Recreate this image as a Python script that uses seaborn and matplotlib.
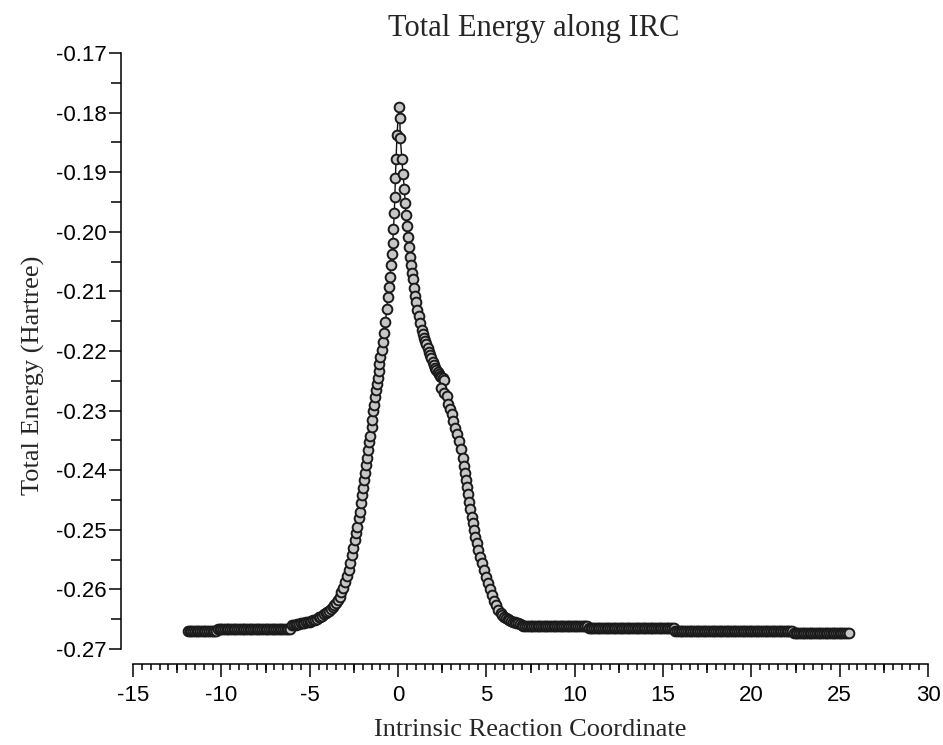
import numpy as np
import pandas as pd
import seaborn as sns
import matplotlib.pyplot as plt
from matplotlib.ticker import MultipleLocator, FixedLocator, FormatStrFormatter

# reactant side plateaus (IRC steps at constant energy level)
react_plateau_irc = [
    [-11.9, -11.8, -11.7, -11.6, -11.5, -11.4, -11.3, -11.2, -11.1, -11.0,
     -10.9, -10.8, -10.7, -10.6, -10.5, -10.4, -10.3],
    [-10.2, -10.1, -10.0, -9.9, -9.8, -9.7, -9.6, -9.5, -9.4, -9.3,
     -9.2, -9.1, -9.0, -8.9, -8.8, -8.7, -8.6, -8.5, -8.4, -8.3,
     -8.2, -8.1, -8.0, -7.9, -7.8, -7.7, -7.6, -7.5, -7.4, -7.3,
     -7.2, -7.1, -7.0, -6.9, -6.8, -6.7, -6.6, -6.5, -6.4, -6.3,
     -6.2, -6.1],
]
react_plateau_e = [-0.2670, -0.2666]

# reactant side rise to the TS
react_irc = [-6.0, -5.9, -5.8, -5.7, -5.6, -5.5, -5.4, -5.3, -5.2, -5.1,
             -5.0, -4.9, -4.8, -4.7, -4.6, -4.5, -4.4, -4.3, -4.2, -4.1,
             -4.0, -3.9, -3.8, -3.7, -3.6, -3.5, -3.4, -3.3,
             -3.20, -3.10, -3.00, -2.90, -2.80, -2.70, -2.61, -2.53, -2.45, -2.37,
             -2.30, -2.22, -2.16, -2.10, -2.04, -1.98, -1.92, -1.87, -1.80, -1.74,
             -1.68, -1.62, -1.56, -1.50, -1.45, -1.40, -1.35, -1.30, -1.25, -1.20,
             -1.15, -1.10, -1.05, -1.00, -0.93, -0.86, -0.80, -0.72, -0.64, -0.58,
             -0.52, -0.46, -0.40, -0.35, -0.30, -0.26, -0.21, -0.18, -0.15, -0.11,
             -0.06]
react_e = [-0.2660, -0.2659, -0.2659, -0.2658, -0.2658, -0.2657, -0.2657, -0.2656, -0.2655, -0.2655,
           -0.2654, -0.2653, -0.2652, -0.2651, -0.2649, -0.2647, -0.2646, -0.2644, -0.2642, -0.2640,
           -0.2638, -0.2636, -0.2633, -0.2630, -0.2626, -0.2623, -0.2618, -0.2612,
           -0.2604, -0.2597, -0.2587, -0.2577, -0.2567, -0.2555, -0.2542, -0.2530, -0.2517, -0.2505,
           -0.2495, -0.2481, -0.2470, -0.2455, -0.2441, -0.2430, -0.2417, -0.2405, -0.2392, -0.2379,
           -0.2366, -0.2353, -0.2342, -0.2328, -0.2315, -0.2301, -0.2290, -0.2278, -0.2266, -0.2256,
           -0.2245, -0.2233, -0.2222, -0.2210, -0.2198, -0.2185, -0.2170, -0.2152, -0.2130, -0.2110,
           -0.2093, -0.2076, -0.2055, -0.2038, -0.2019, -0.1995, -0.1968, -0.1942, -0.1910, -0.1878,
           -0.1838]

# transition state
ts_irc = [0.05]
ts_e = [-0.1791]

# product side descent
prod_irc = [0.10, 0.13, 0.22, 0.28, 0.36, 0.40, 0.44, 0.50, 0.55, 0.61,
            0.67, 0.73, 0.79, 0.85, 0.90, 0.96, 1.03, 1.10, 1.17, 1.25,
            1.33, 1.40,
            1.47, 1.54, 1.61, 1.68, 1.75, 1.82, 1.89, 1.96, 2.03, 2.10,
            2.17, 2.24, 2.31, 2.38, 2.45, 2.52, 2.58,
            2.43, 2.62, 2.77, 2.83, 2.95, 3.06, 3.11, 3.23, 3.34, 3.45,
            3.57, 3.66, 3.73, 3.80, 3.86, 3.92, 3.98, 4.04, 4.10, 4.16,
            4.22, 4.29, 4.38, 4.47, 4.55, 4.64, 4.75, 4.86, 4.97, 5.08,
            5.20, 5.32, 5.44, 5.56, 5.68, 5.80, 5.90, 6.00, 6.10, 6.20,
            6.30, 6.40, 6.50, 6.60, 6.70, 6.80, 6.90, 7.00]
prod_e = [-0.1809, -0.1843, -0.1878, -0.1903, -0.1928, -0.1951, -0.1971, -0.1990, -0.2008, -0.2025,
          -0.2042, -0.2055, -0.2069, -0.2080, -0.2094, -0.2107, -0.2117, -0.2131, -0.2142, -0.2153,
          -0.2164, -0.2172,
          -0.2178, -0.2183, -0.2189, -0.2195, -0.2201, -0.2206, -0.2212, -0.2218, -0.2223, -0.2228,
          -0.2232, -0.2236, -0.2239, -0.2242, -0.2244, -0.2246, -0.2248,
          -0.2262, -0.2270, -0.2275, -0.2289, -0.2297, -0.2306, -0.2317, -0.2329, -0.2339, -0.2351,
          -0.2364, -0.2379, -0.2393, -0.2405, -0.2416, -0.2428, -0.2440, -0.2453, -0.2465, -0.2478,
          -0.2488, -0.2500, -0.2512, -0.2522, -0.2534, -0.2545, -0.2555, -0.2567, -0.2579, -0.2589,
          -0.2600, -0.2610, -0.2619, -0.2627, -0.2634, -0.2639, -0.2643, -0.2646, -0.2648, -0.2650,
          -0.2652, -0.2653, -0.2654, -0.2655, -0.2656, -0.2657, -0.2658, -0.2659]

# product side plateaus
prod_plateau_irc = [
    [7.1, 7.2, 7.3, 7.4, 7.5, 7.6, 7.7, 7.8, 7.9, 8.0,
     8.1, 8.2, 8.3, 8.4, 8.5, 8.6, 8.7, 8.8, 8.9, 9.0,
     9.1, 9.2, 9.3, 9.4, 9.5, 9.6, 9.7, 9.8, 9.9, 10.0,
     10.1, 10.2, 10.3, 10.4, 10.5, 10.6, 10.7],
    [10.8, 10.9, 11.0, 11.1, 11.2, 11.3, 11.4, 11.5, 11.6, 11.7,
     11.8, 11.9, 12.0, 12.1, 12.2, 12.3, 12.4, 12.5, 12.6, 12.7,
     12.8, 12.9, 13.0, 13.1, 13.2, 13.3, 13.4, 13.5, 13.6, 13.7,
     13.8, 13.9, 14.0, 14.1, 14.2, 14.3, 14.4, 14.5, 14.6, 14.7,
     14.8, 14.9, 15.0, 15.1, 15.2, 15.3, 15.4, 15.5, 15.6],
    [15.7, 15.8, 15.9, 16.0, 16.1, 16.2, 16.3, 16.4, 16.5, 16.6,
     16.7, 16.8, 16.9, 17.0, 17.1, 17.2, 17.3, 17.4, 17.5, 17.6,
     17.7, 17.8, 17.9, 18.0, 18.1, 18.2, 18.3, 18.4, 18.5, 18.6,
     18.7, 18.8, 18.9, 19.0, 19.1, 19.2, 19.3, 19.4, 19.5, 19.6,
     19.7, 19.8, 19.9, 20.0, 20.1, 20.2, 20.3, 20.4, 20.5, 20.6,
     20.7, 20.8, 20.9, 21.0, 21.1, 21.2, 21.3, 21.4, 21.5, 21.6,
     21.7, 21.8, 21.9, 22.0, 22.1, 22.2, 22.3],
    [22.4, 22.5, 22.6, 22.7, 22.8, 22.9, 23.0, 23.1, 23.2, 23.3,
     23.4, 23.5, 23.6, 23.7, 23.8, 23.9, 24.0, 24.1, 24.2, 24.3,
     24.4, 24.5, 24.6, 24.7, 24.8, 24.9, 25.0, 25.1, 25.2, 25.3,
     25.4, 25.5],
]
prod_plateau_e = [-0.2661, -0.2665, -0.2669, -0.2673]

# assemble in IRC order
rows = []
for xs, e in zip(react_plateau_irc, react_plateau_e):
    rows += [(x, e) for x in xs]
rows += list(zip(react_irc, react_e))
rows += list(zip(ts_irc, ts_e))
rows += list(zip(prod_irc, prod_e))
for xs, e in zip(prod_plateau_irc, prod_plateau_e):
    rows += [(x, e) for x in xs]
assert len(react_irc) == len(react_e) and len(prod_irc) == len(prod_e)
df = pd.DataFrame(rows, columns=["IRC", "Energy"])

sns.set_theme(style="ticks")
plt.rcParams["font.family"] = ["Liberation Sans", "DejaVu Sans"]
plt.rcParams["axes.unicode_minus"] = False

fig = plt.figure(figsize=(9.43, 7.45), dpi=100)
ax = fig.add_axes([121 / 943, (745 - 664) / 745, 809 / 943, 612 / 745])

sns.lineplot(data=df, x="IRC", y="Energy", sort=False, estimator=None, ax=ax,
             color="#101010", linewidth=1.0, marker="o", markersize=7.0,
             markerfacecolor="#c6c6c6", markeredgecolor="#1a1a1a",
             markeredgewidth=1.4)

ax.set_xlim(-15.68, 30.11)
ax.set_ylim(-0.27252, -0.16983)

for s in ["top", "right"]:
    ax.spines[s].set_visible(False)
for s in ["left", "bottom"]:
    ax.spines[s].set_linewidth(1.1)
    ax.spines[s].set_color("black")
ax.spines["left"].set_bounds(-0.27, -0.17)
ax.spines["bottom"].set_bounds(-15, 30)

ax.xaxis.set_major_locator(MultipleLocator(5))
ax.xaxis.set_minor_locator(FixedLocator(np.arange(-15, 30.01, 0.5)))
ax.yaxis.set_major_locator(MultipleLocator(0.01))
ax.yaxis.set_minor_locator(MultipleLocator(0.005))
ax.yaxis.set_major_formatter(FormatStrFormatter("%.2f"))

ax.tick_params(axis="x", which="major", direction="out", length=9, width=1.1,
               color="black", labelsize=16, pad=6, labelcolor="black")
ax.tick_params(axis="x", which="minor", direction="out", length=4.5, width=1.1,
               color="black")
ax.tick_params(axis="y", which="major", direction="out", length=8.5, width=1.1,
               color="black", labelsize=16, pad=2, labelcolor="black")
ax.tick_params(axis="y", which="minor", direction="out", length=7, width=1.1,
               color="black")

# medium ticks halfway between the major x ticks
sec = ax.secondary_xaxis("bottom")
sec.xaxis.set_major_locator(MultipleLocator(5, offset=2.5))
sec.tick_params(axis="x", which="major", direction="out", length=6.5, width=1.1,
                color="black", labelbottom=False)
sec.spines["bottom"].set_visible(False)

serif = ["Liberation Serif", "DejaVu Serif"]
ax.set_title("Total Energy along IRC", fontfamily=serif, fontsize=22,
             x=(534 - 121) / 809, y=(664 - 36) / 612, pad=0, va="baseline")
ax.set_xlabel("Intrinsic Reaction Coordinate", fontfamily=serif, fontsize=19)
ax.xaxis.set_label_coords((530 - 121) / 809, (664 - 719) / 612)
ax.set_ylabel("Total Energy (Hartree)", fontfamily=serif, fontsize=19)
ax.yaxis.set_label_coords((45 - 121) / 809, (664 - 375) / 612)

fig.savefig("out.png", dpi=100)
